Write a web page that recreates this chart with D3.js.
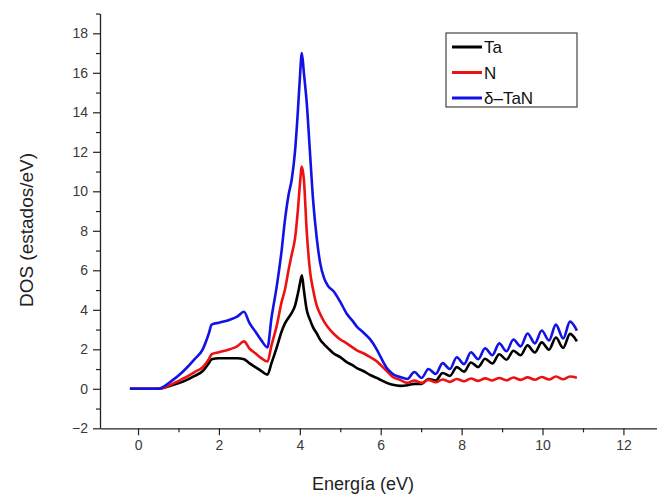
<!DOCTYPE html>
<html>
<head>
<meta charset="utf-8">
<script src="https://cdn.jsdelivr.net/npm/d3@7"></script>
<style>
  html, body { margin: 0; padding: 0; background: #fff; }
  svg { display: block; font-family: "Liberation Sans", Arial, sans-serif; }
</style>
</head>
<body>
<svg id="chart" width="657" height="496"></svg>
<script>
// Energy grid (eV) shared by the three densities of states
const energy = [
  -0.2, 0.5, 0.8, 1.1, 1.4, 1.6, 1.75, 1.82, 2.0, 2.27, 2.45, 2.62, 2.75, 2.9, 3.05, 3.2,
  3.3, 3.43, 3.55, 3.63, 3.72, 3.8, 3.88, 3.95, 4.0, 4.05, 4.1, 4.17, 4.25, 4.33, 4.42,
  4.5, 4.6, 4.7, 4.83, 5.0, 5.16, 5.3, 5.41, 5.57, 5.74, 5.9, 6.0, 6.15, 6.3, 6.48,
  6.66, 6.83, 7.01, 7.18, 7.36, 7.53, 7.71, 7.88, 8.06, 8.23, 8.41, 8.58, 8.76, 8.93,
  9.11, 9.28, 9.46, 9.63, 9.81, 9.98, 10.16, 10.33, 10.51, 10.68, 10.85
];

// Partial DOS of Ta (estados/eV)
const dosTa = [
  0, 0, 0.15, 0.35, 0.65, 0.9, 1.3, 1.5, 1.55, 1.55, 1.55, 1.5, 1.3, 1.1, 0.9, 0.72,
  1.3, 2.1, 2.9, 3.3, 3.6, 3.85, 4.2, 4.8, 5.3, 5.75, 5.0, 4.0, 3.5, 3.1, 2.8,
  2.5, 2.25, 2.05, 1.8, 1.6, 1.35, 1.2, 1.05, 0.9, 0.7, 0.55, 0.45, 0.3, 0.2, 0.15,
  0.18, 0.25, 0.25, 0.5, 0.42, 0.8, 0.65, 1.1, 0.87, 1.33, 1.1, 1.52, 1.28, 1.75,
  1.47, 1.93, 1.7, 2.2, 1.84, 2.35, 1.98, 2.6, 2.07, 2.78, 2.4
];

// Partial DOS of N (estados/eV)
const dosN = [
  0, 0, 0.2, 0.5, 0.85, 1.1, 1.5, 1.75, 1.85, 2.0, 2.15, 2.4, 2.05, 1.8, 1.55, 1.38,
  2.2, 3.2, 4.4, 5.0, 6.0, 6.8, 7.6, 9.0, 10.3, 11.25, 10.6, 8.0, 6.0, 5.0, 4.2,
  3.8, 3.4, 3.1, 2.8, 2.5, 2.3, 2.1, 1.95, 1.8, 1.6, 1.4, 1.2, 0.9, 0.6, 0.45,
  0.3, 0.42, 0.3, 0.45, 0.33, 0.47, 0.35, 0.5, 0.38, 0.52, 0.4, 0.53, 0.42, 0.55,
  0.43, 0.57, 0.45, 0.58, 0.46, 0.6, 0.47, 0.62, 0.48, 0.62, 0.56
];

// Total DOS of δ-TaN (estados/eV)
const dosTaN = [
  0, 0, 0.35, 0.85, 1.5, 2.0, 2.8, 3.25, 3.35, 3.5, 3.65, 3.9, 3.35, 2.9, 2.45, 2.1,
  3.6, 5.2, 7.0, 8.5, 9.8, 10.6, 12.0, 14.0, 15.7, 17.0, 16.0, 14.5, 12.0, 9.5, 7.6,
  6.4, 5.6, 5.2, 4.95, 4.4, 3.8, 3.45, 3.15, 2.85, 2.5, 2.0, 1.6, 1.05, 0.75, 0.6,
  0.5, 0.85, 0.55, 1.0, 0.75, 1.3, 1.0, 1.6, 1.25, 1.85, 1.5, 2.05, 1.7, 2.3,
  1.9, 2.5, 2.15, 2.8, 2.3, 2.95, 2.45, 3.25, 2.55, 3.4, 2.95
];

const seriesNames = ["Ta", "N", "\u03B4\u2013TaN"];
const seriesColors = ["#000000", "#ee1111", "#1212e6"];
const seriesValues = [dosTa, dosN, dosTaN];

const xMajorTicks = [0, 2, 4, 6, 8, 10, 12];
const xMinorTicks = [1, 3, 5, 7, 9, 11];
const yMajorTicks = [-2, 0, 2, 4, 6, 8, 10, 12, 14, 16, 18];
const yMinorTicks = [-1, 1, 3, 5, 7, 9, 11, 13, 15, 17, 19];

const svg = d3.select("#chart");

const x = d3.scaleLinear().domain([-0.94, 12.83]).range([100, 657]);
const y = d3.scaleLinear().domain([-2, 19]).range([428.3, 13.55]);

const axisColor = "#222";
const labelColor = "#3a3a3a";

// Bottom axis
const xAxis = svg.append("g").attr("transform", `translate(0,${y(-2)})`);
xAxis.call(d3.axisBottom(x).tickValues(xMajorTicks).tickSize(7).tickPadding(5).tickSizeOuter(0));
xAxis.append("g").call(d3.axisBottom(x).tickValues(xMinorTicks).tickSize(4).tickFormat("").tickSizeOuter(0))
  .select(".domain").remove();

// Left axis
const yAxis = svg.append("g").attr("transform", `translate(${x(-0.94)},0)`);
yAxis.call(d3.axisLeft(y).tickValues(yMajorTicks).tickSize(7).tickPadding(5).tickSizeOuter(0));
yAxis.append("g").call(d3.axisLeft(y).tickValues(yMinorTicks).tickSize(4).tickFormat("").tickSizeOuter(0))
  .select(".domain").remove();

svg.selectAll(".domain").attr("stroke", axisColor).attr("stroke-width", 1.3);
svg.selectAll(".tick line").attr("stroke", axisColor).attr("stroke-width", 1.2);
svg.selectAll(".tick text")
  .attr("fill", labelColor)
  .style("font-size", "14px")
  .style("font-family", "Liberation Sans, Arial, sans-serif");

// Axis titles
svg.append("text")
  .attr("x", 363)
  .attr("y", 490)
  .attr("text-anchor", "middle")
  .attr("fill", "#222")
  .style("font-size", "18px")
  .text("Energía (eV)");

svg.append("text")
  .attr("transform", "translate(33,230) rotate(-90)")
  .attr("text-anchor", "middle")
  .attr("fill", "#222")
  .style("font-size", "19px")
  .text("DOS (estados/eV)");

// Curves
const line = d3.line()
  .x((d, i) => x(energy[i]))
  .y(d => y(d))
  .curve(d3.curveMonotoneX);

seriesValues.forEach((vals, k) => {
  svg.append("path")
    .datum(vals)
    .attr("fill", "none")
    .attr("stroke", seriesColors[k])
    .attr("stroke-width", 2.6)
    .attr("stroke-linejoin", "round")
    .attr("d", line);
});

// Legend
const legend = svg.append("g").attr("transform", "translate(446,33)");
legend.append("rect")
  .attr("width", 131).attr("height", 74)
  .attr("fill", "#fff").attr("stroke", "#444").attr("stroke-width", 1.2);
seriesNames.forEach((name, k) => {
  const cy = 14 + k * 25.5;
  legend.append("line")
    .attr("x1", 6).attr("x2", 36).attr("y1", cy).attr("y2", cy)
    .attr("stroke", seriesColors[k]).attr("stroke-width", 3);
  legend.append("text")
    .attr("x", 38).attr("y", cy + 6)
    .attr("fill", "#111")
    .style("font-size", "17px")
    .text(name);
});
</script>
</body>
</html>
